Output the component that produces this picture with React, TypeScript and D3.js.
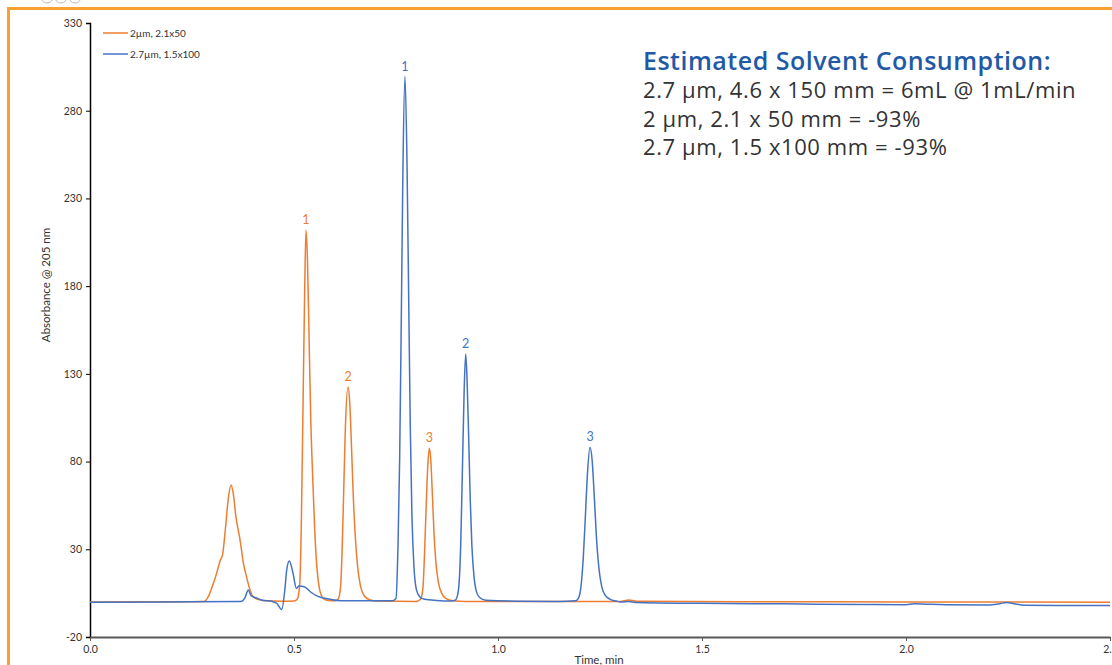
import React, { useEffect, useRef } from 'react'
import * as d3 from 'd3'

// time (min), absorbance
const orangeTrace: [number, number][] = [
  [0, 0], [0.2, 0.1], [0.28, 0.3], [0.29, 3], [0.3, 9], [0.31, 16], [0.319, 23.5], [0.325, 27],
  [0.332, 42], [0.339, 59], [0.3456, 66.7], [0.351, 62], [0.358, 48], [0.368, 35], [0.376, 22],
  [0.384, 14], [0.392, 7], [0.4, 3], [0.415, 1.2], [0.433, 0.6], [0.47, 0.4], [0.5, 0.5],
  [0.508, 1.5], [0.514, 10], [0.518, 45], [0.522, 110], [0.526, 175], [0.5294, 212], [0.533, 195],
  [0.537, 150], [0.541, 105], [0.546, 70], [0.551, 40], [0.556, 20], [0.562, 8], [0.57, 2.5],
  [0.58, 1], [0.6, 0.6], [0.608, 1.5], [0.614, 8], [0.618, 30], [0.622, 65], [0.626, 100],
  [0.6325, 122.5], [0.637, 112], [0.641, 88], [0.645, 62], [0.65, 38], [0.656, 20], [0.663, 9],
  [0.672, 3.5], [0.685, 1.2], [0.7, 0.5], [0.8, 0.3], [0.81, 1.5], [0.816, 8], [0.82, 28],
  [0.824, 55], [0.828, 78], [0.8317, 87.6], [0.835, 82], [0.839, 62], [0.843, 40], [0.848, 22],
  [0.854, 11], [0.862, 5], [0.872, 2], [0.89, 0.6], [0.92, 0.3], [1.3, 0.3], [1.32, 1.1],
  [1.34, 0.4], [1.6, 0.1], [2.0, 0], [2.5, -0.2],
]

const blueTrace: [number, number][] = [
  [0, -0.2], [0.2, 0], [0.37, 0.3], [0.38, 2.5], [0.388, 6.8], [0.395, 3.5], [0.408, 2.2],
  [0.42, 1.1], [0.447, 0.2], [0.458, -0.9], [0.47, -4.3], [0.478, 8], [0.482, 18], [0.4885, 23.3],
  [0.497, 17], [0.506, 7.7], [0.512, 9.1], [0.525, 8.7], [0.54, 5.8], [0.556, 3.4], [0.588, 1.5],
  [0.613, 0.7], [0.74, 0.6], [0.75, 2], [0.755, 33], [0.759, 82], [0.763, 162], [0.767, 247],
  [0.772, 299.5], [0.777, 250], [0.781, 175], [0.785, 100], [0.789, 50], [0.794, 20], [0.8, 7],
  [0.808, 3], [0.82, 1.5], [0.85, 0.8], [0.88, 0.5], [0.895, 1], [0.9, 3], [0.905, 12],
  [0.909, 36], [0.913, 78], [0.917, 120], [0.9208, 141.3], [0.924, 128], [0.928, 95], [0.932, 58],
  [0.936, 32], [0.941, 15], [0.947, 6], [0.955, 2.5], [0.97, 1], [1.05, 0.4], [1.15, 0.3],
  [1.19, 0.6], [1.197, 2], [1.203, 8], [1.209, 25], [1.214, 48], [1.219, 72], [1.2255, 88.1],
  [1.231, 80], [1.236, 60], [1.241, 38], [1.247, 20], [1.254, 9], [1.262, 4], [1.275, 1.5],
  [1.29, 0.5], [1.3, 0], [1.32, 0.3], [1.34, -0.3], [1.5, -0.8], [1.7, -1.1], [1.9, -1.5],
  [2.0, -1.6], [2.02, -1.1], [2.05, -1.3], [2.1, -1.6], [2.2, -1.8], [2.23, -1.0], [2.247, -0.3],
  [2.265, -1.0], [2.29, -1.9], [2.4, -2.0], [2.5, -2.1],
]

const orangePeaks: [number, number, string][] = [
  [0.5294, 212, '1'], [0.6325, 122.5, '2'], [0.8317, 87.6, '3'],
]
const bluePeaks: [number, number, string][] = [
  [0.772, 299.5, '1'], [0.9208, 141.3, '2'], [1.2255, 88.1, '3'],
]

const yTicks = [-20, 30, 80, 130, 180, 230, 280, 330]
const xTicks = [0, 0.5, 1.0, 1.5, 2.0, 2.5]
const legendLabels = ['2µm, 2.1x50', '2.7µm, 1.5x100']

const noteTitle = 'Estimated Solvent Consumption:'
const noteLines = [
  '2.7 µm, 4.6 x 150 mm = 6mL @ 1mL/min',
  '2 µm, 2.1 x 50 mm = -93%',
  '2.7 µm, 1.5 x100 mm = -93%',
]

const ORANGE = '#ED7D31'
const BLUE = '#4472C4'
const FONT = 'Lato, "Noto Sans", sans-serif'
const NOTE_FONT = '"Open Sans", "Noto Sans", sans-serif'

const width = 1112
const height = 665

const App = () => {
  const svgRef = useRef<SVGSVGElement>(null)

  useEffect(() => {
    const svg = d3.select(svgRef.current)
    svg.selectAll('*').remove()

    const x = d3.scaleLinear().domain([0, 2.5]).range([90, 1110])
    const y = d3.scaleLinear().domain([-20, 330]).range([637, 23])

    // frame bits of the slide
    svg.append('rect').attr('x', 0).attr('y', 0).attr('width', width).attr('height', height).attr('fill', '#fff')
    svg.append('line').attr('x1', 8).attr('x2', width).attr('y1', 8.5).attr('y2', 8.5)
      .attr('stroke', '#F7A030').attr('stroke-width', 3)
    svg.append('line').attr('x1', 8.5).attr('x2', 8.5).attr('y1', 7).attr('y2', height)
      .attr('stroke', '#F7A030').attr('stroke-width', 3)
    ;[47, 61, 75].forEach(cx => {
      svg.append('circle').attr('cx', cx).attr('cy', -3).attr('r', 6)
        .attr('fill', 'none').attr('stroke', '#bbb').attr('stroke-width', 1)
    })

    // axes
    const yAxis = d3.axisLeft(y).tickValues(yTicks).tickSize(4).tickSizeOuter(4).tickFormat(d => `${d}`)
    const gy = svg.append('g').attr('transform', 'translate(90,0)').call(yAxis)
    gy.select('.domain').attr('stroke', '#000').attr('stroke-width', 1.5)
    gy.selectAll('.tick line').attr('stroke', '#000')
    gy.selectAll('text').attr('font-family', FONT).attr('font-size', 10.5).attr('fill', '#333').attr('x', -8)

    const xAxis = d3.axisBottom(x).tickValues(xTicks).tickSize(4).tickSizeOuter(0).tickFormat(d3.format('.1f'))
    const gx = svg.append('g').attr('transform', 'translate(0,637)').call(xAxis)
    gx.select('.domain').attr('stroke', '#595959').attr('stroke-width', 2)
    gx.selectAll('.tick line').attr('stroke', '#595959')
    gx.selectAll('text').attr('font-family', FONT).attr('font-size', 10.5).attr('fill', '#333').attr('y', 9)

    svg.append('text').attr('x', 599).attr('y', 664).attr('text-anchor', 'middle')
      .attr('font-family', FONT).attr('font-size', 11.5).attr('fill', '#333').text('Time, min')
    svg.append('text').attr('transform', 'translate(50,285) rotate(-90)').attr('text-anchor', 'middle')
      .attr('font-family', FONT).attr('font-size', 11.5).attr('fill', '#333').text('Absorbance @ 205 nm')

    // traces
    const path = d3.line<[number, number]>().x(d => x(d[0])).y(d => y(d[1])).curve(d3.curveMonotoneX)
    svg.append('path').datum(orangeTrace).attr('d', path).attr('fill', 'none')
      .attr('stroke', ORANGE).attr('stroke-width', 1.5)
    svg.append('path').datum(blueTrace).attr('d', path).attr('fill', 'none')
      .attr('stroke', BLUE).attr('stroke-width', 1.5)

    // peak numbers
    const labelPeaks = (peaks: [number, number, string][], color: string) => {
      svg.selectAll(null).data(peaks).enter().append('text')
        .attr('x', d => x(d[0])).attr('y', d => y(d[1]) - 6)
        .attr('text-anchor', 'middle').attr('font-family', FONT).attr('font-size', 12.5)
        .attr('fill', color).text(d => d[2])
    }
    labelPeaks(orangePeaks, ORANGE)
    labelPeaks(bluePeaks, BLUE)

    // legend
    const legend = svg.append('g')
    legendLabels.forEach((label, i) => {
      const ly = 33 + i * 21
      legend.append('line').attr('x1', 103).attr('x2', 128).attr('y1', ly).attr('y2', ly)
        .attr('stroke', i === 0 ? ORANGE : BLUE).attr('stroke-width', 1.5)
      legend.append('text').attr('x', 130).attr('y', ly).attr('dy', '0.35em')
        .attr('font-family', FONT).attr('font-size', 10).attr('fill', '#333').text(label)
    })

    // solvent note
    svg.append('text').attr('x', 643).attr('y', 70).attr('font-family', NOTE_FONT).attr('font-weight', 600)
      .attr('font-size', 25).attr('letter-spacing', 0.5).attr('fill', '#1F5AA6').text(noteTitle)
    noteLines.forEach((t, i) => {
      svg.append('text').attr('x', 643).attr('y', 98 + i * 28.5).attr('font-family', NOTE_FONT)
        .attr('font-size', 22).attr('letter-spacing', 0.6).attr('fill', '#333').text(t)
    })
  }, [])

  return (
    <svg ref={svgRef} width={width} height={height}
      style={{ position: 'absolute', left: 0, top: 0, display: 'block' }} />
  )
}

export default App
